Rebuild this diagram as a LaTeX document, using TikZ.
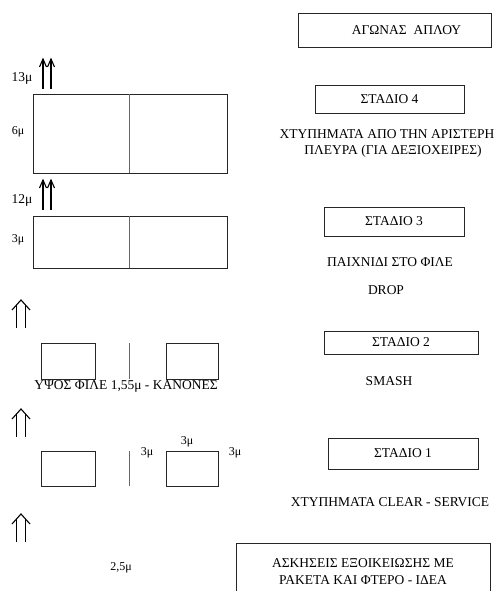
\documentclass[tikz,border=0pt]{standalone}
\usepackage{fontspec}
\setmainfont{Liberation Serif}
\begin{document}
\begin{tikzpicture}[x=1pt,y=-1pt,
  lbl/.style={font=\fontsize{13.5}{17}\selectfont, inner sep=0pt},
  small/.style={font=\fontsize{12}{14}\selectfont, inner sep=0pt},
  big/.style={font=\fontsize{13.5}{16}\selectfont, inner sep=0pt},
  frame/.style={draw=black!85, line width=0.8pt, inner sep=0pt, align=center,
    font=\fontsize{13.5}{17}\selectfont},
  court/.style={draw=black!85, line width=0.8pt},
  divider/.style={draw=black!60, line width=0.9pt},
  arr/.style={line width=1.1pt, line join=miter},
  dup/.pic={
    \draw[arr] (-9,10) -- (0,0) -- (9,10);
    \draw[arr] (-4.5,5) -- (-4.5,28);
    \draw[arr] (4.5,5) -- (4.5,28);
  },
  sup/.pic={
    \draw[arr] (-3.5,8) -- (0,0) -- (3.5,8);
    \draw[arr] (0,0) -- (0,30);
  }]
\useasboundingbox (0,0) rectangle (496,591);
\clip (0,0) rectangle (496,591);

% right column boxes
\node[frame, minimum width=193pt, minimum height=34pt] (agon) at (394.5,30)
  {\hspace*{24pt}ΑΓΩΝΑΣ\ \ ΑΠΛΟΥ};
\node[frame, minimum width=149pt, minimum height=28pt] (st4) at (389.5,99) {ΣΤΑΔΙΟ 4};
\node[lbl] (t4a) at (387,134) {ΧΤΥΠΗΜΑΤΑ ΑΠΟ ΤΗΝ ΑΡΙΣΤΕΡΗ};
\node[lbl] (t4b) at (393,151) {ΠΛΕΥΡΑ (ΓΙΑ ΔΕΞΙΟΧΕΙΡΕΣ)};
\node[frame, minimum width=140pt, minimum height=29pt] (st3) at (394,221.5) {ΣΤΑΔΙΟ 3};
\node[lbl] (t3a) at (390,262) {ΠΑΙΧΝΙΔΙ ΣΤΟ ΦΙΛΕ};
\node[lbl] (t3b) at (386,290) {DROP};
\node[frame, minimum width=154pt, minimum height=23pt] (st2) at (401,342.5) {ΣΤΑΔΙΟ 2};
\node[lbl] (t2) at (389,381) {SMASH};
\node[frame, minimum width=150pt, minimum height=31pt] (st1) at (403,453.5) {ΣΤΑΔΙΟ 1};
\node[lbl] (t1) at (390,502) {ΧΤΥΠΗΜΑΤΑ CLEAR - SERVICE};
\node[frame, minimum width=254pt, minimum height=57pt] (intro) at (363,571.5)
  {ΑΣΚΗΣΕΙΣ ΕΞΟΙΚΕΙΩΣΗΣ ΜΕ\\ΡΑΚΕΤΑ ΚΑΙ ΦΤΕΡΟ - ΙΔΕΑ};

% stage 4 court
\draw[court] (33,94) rectangle (227,173);
\draw[divider] (129,94) -- (129,173);
\node[big] (h13) at (22,78) {13μ};
\pic at (43,59) {sup};
\pic at (51,59) {sup};
\node[small] (w6) at (18,132) {6μ};

% stage 3 court
\draw[court] (33,216) rectangle (227,268);
\draw[divider] (129,216) -- (129,268);
\node[big] (h12) at (22,200) {12μ};
\pic at (43,180) {sup};
\pic at (51,180) {sup};
\node[small] (w3) at (18,240) {3μ};

% stage 2
\pic at (21,300) {dup};
\draw[court] (41,343) rectangle (95,379);
\draw[divider] (129,343) -- (129,379);
\draw[court] (166,343) rectangle (218,379);
\node[lbl] (net) at (126,386) {ΥΨΟΣ ΦΙΛΕ 1,55μ - ΚΑΝΟΝΕΣ};

% stage 1
\pic at (21,409) {dup};
\draw[court] (41,451) rectangle (95,486);
\draw[divider] (129,451) -- (129,486);
\draw[court] (166,451) rectangle (218,486);
\node[small] (d1) at (147,453) {3μ};
\node[small] (d2) at (187,442) {3μ};
\node[small] (d3) at (235,453) {3μ};

% intro
\pic at (21,514) {dup};
\node[small] (d25) at (121,568) {2,5μ};
\end{tikzpicture}
\end{document}
